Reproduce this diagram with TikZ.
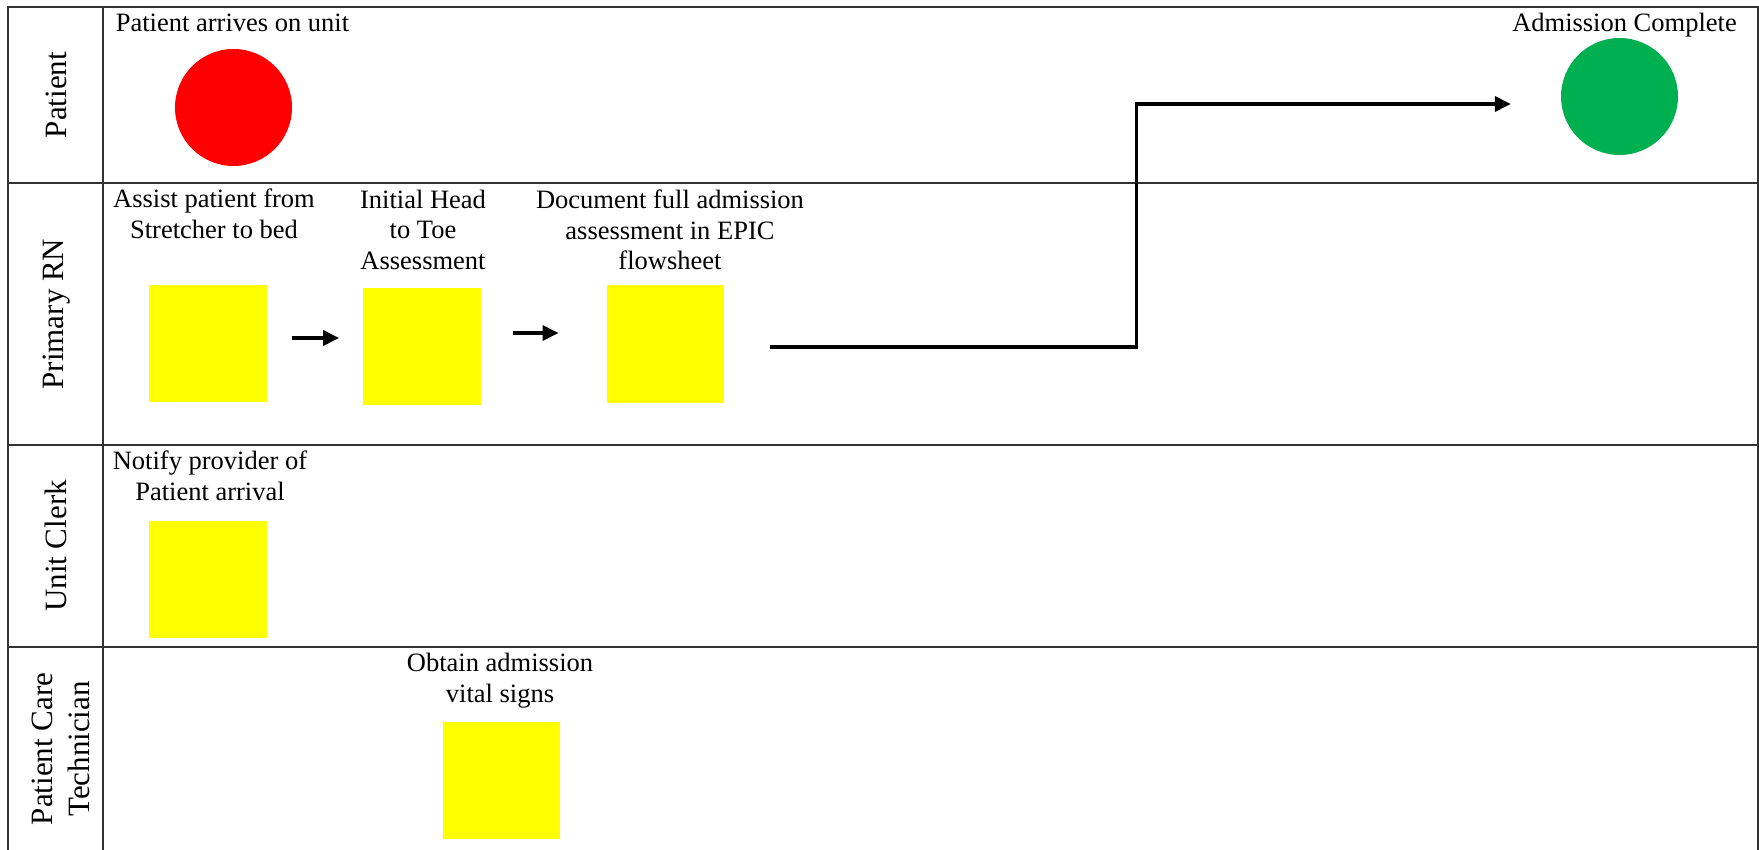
\documentclass[tikz,border=0pt]{standalone}
\usepackage{fontspec}
\setmainfont{Liberation Serif}
\usetikzlibrary{arrows.meta,calc}
\definecolor{startred}{HTML}{FF0000}
\definecolor{endgreen}{HTML}{00B050}
\definecolor{taskyellow}{HTML}{FFFF00}
\definecolor{gridgray}{HTML}{333333}

\begin{document}
\begin{tikzpicture}[x=1pt,y=-1pt,
  grid/.style={draw=gridgray, line width=2pt},
  lanelabel/.style={rotate=90, inner sep=0pt, align=center, font=\fontsize{31}{37}\selectfont},
  % multi-line captions are placed by the baseline of their last line
  tasktext/.style={anchor=base, inner sep=0pt, align=center, font=\fontsize{26.5}{30.5}\selectfont},
  taskbox/.style={fill=taskyellow, minimum width=117.5pt, minimum height=117.5pt, inner sep=0pt},
  terminal/.style={circle, minimum size=117pt, inner sep=0pt},
  flow/.style={line width=3.5pt, -{Triangle[length=16pt,width=15pt]}},
]
\useasboundingbox (0,0) rectangle (1759,850);

% swimlane grid
\draw[grid] (8,850) -- (8,7) -- (1758,7) -- (1758,850);
\draw[grid] (103,7) -- (103,850);
\draw[grid] (8,183) -- (1758,183);
\draw[grid] (8,445) -- (1758,445);
\draw[grid] (8,647) -- (1758,647);

% lane titles
\node[lanelabel] (lanePatient) at (56,95) {Patient};
\node[lanelabel] (laneRN) at (57,314) {Primary RN};
\node[lanelabel] (laneClerk) at (56,546) {Unit Clerk};
\node[lanelabel] (lanePCT) at (61,749) {Patient Care\\Technician};

% start and end events
\node[terminal, fill=startred] (start) at (233.5,107.5) {};
\node[tasktext] (startText) at (232.5,32) {Patient arrives on unit};
\node[terminal, fill=endgreen] (finish) at (1619.5,96.5) {};
\node[tasktext] (finishText) at (1624.5,32) {Admission Complete};

% Primary RN tasks
\node[taskbox] (assist) at (208,343.5) {};
\node[tasktext] (assistText) at (214,238.5) {Assist patient from\\Stretcher to bed};
\node[taskbox] (headtoe) at (422,346.5) {};
\node[tasktext] (headtoeText) at (423,269.5) {Initial Head\\to Toe\\Assessment};
\node[taskbox] (document) at (665.5,344) {};
\node[tasktext] (documentText) at (670,270) {Document full admission\\assessment in EPIC\\flowsheet};

% Unit Clerk task
\node[taskbox] (notify) at (208,579.5) {};
\node[tasktext] (notifyText) at (210,500) {Notify provider of\\Patient arrival};

% Patient Care Technician task
\node[taskbox] (vitals) at (501.5,780.5) {};
\node[tasktext] (vitalsText) at (500,702) {Obtain admission\\vital signs};

% flow connectors
\draw[flow] ($(assist.east)+(25,-5.5)$) -- ($(headtoe.west)+(-24,-8.5)$);
\draw[flow] ($(headtoe.east)+(32,-13.5)$) -- ($(document.west)+(-48,-11)$);
\draw[flow] ($(document.east)+(46,3)$) -- ++(366,0) |- ($(finish.west)+(-50,7.5)$);
\end{tikzpicture}
\end{document}
